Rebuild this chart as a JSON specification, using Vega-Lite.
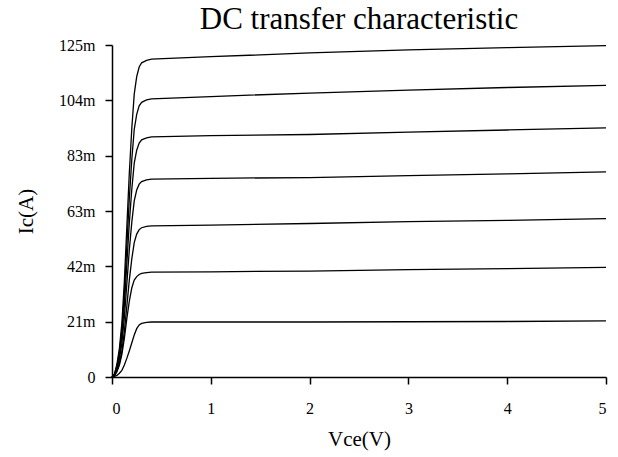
{
  "$schema": "https://vega.github.io/schema/vega-lite/v6.json",
  "autosize": "none",
  "width": 494,
  "height": 332,
  "padding": {"left": 112, "top": 45, "right": 12, "bottom": 80},
  "background": "white",
  "title": {"text": "DC transfer characteristic", "font": "Liberation Serif", "fontSize": 31, "fontWeight": "normal", "color": "black", "anchor": "middle", "offset": 1},
  "data": {"values": [
    {"v": 0, "c1": 0, "c2": 0, "c3": 0, "c4": 0, "c5": 0, "c6": 0, "c7": 0},
    {"v": 0.025, "c1": 0.2, "c2": 0.5, "c3": 0.6, "c4": 0.7, "c5": 0.9, "c6": 1.0, "c7": 1.2},
    {"v": 0.05, "c1": 0.6, "c2": 2.0, "c3": 2.3, "c4": 3.0, "c5": 3.6, "c6": 4.2, "c7": 4.8},
    {"v": 0.075, "c1": 1.4, "c2": 4.5, "c3": 5.1, "c4": 6.7, "c5": 8.1, "c6": 9.4, "c7": 10.8},
    {"v": 0.1, "c1": 2.5, "c2": 8.5, "c3": 9.7, "c4": 12.7, "c5": 15.4, "c6": 17.8, "c7": 20.3},
    {"v": 0.125, "c1": 4.5, "c2": 14.5, "c3": 17.1, "c4": 22.4, "c5": 27.1, "c6": 31.4, "c7": 35.9},
    {"v": 0.15, "c1": 7.0, "c2": 22.0, "c3": 26.7, "c4": 35.0, "c5": 42.5, "c6": 49.2, "c7": 56.3},
    {"v": 0.175, "c1": 9.8, "c2": 28.5, "c3": 36.4, "c4": 47.7, "c5": 57.9, "c6": 67.0, "c7": 76.6},
    {"v": 0.2, "c1": 12.8, "c2": 33.5, "c3": 44.4, "c4": 58.1, "c5": 70.5, "c6": 81.7, "c7": 93.4},
    {"v": 0.225, "c1": 15.8, "c2": 36.5, "c3": 50.6, "c4": 66.3, "c5": 80.5, "c6": 93.2, "c7": 106.5},
    {"v": 0.25, "c1": 18.2, "c2": 37.8, "c3": 53.8, "c4": 70.4, "c5": 85.4, "c6": 98.9, "c7": 113.1},
    {"v": 0.275, "c1": 19.6, "c2": 38.6, "c3": 55.5, "c4": 72.6, "c5": 88.1, "c6": 102.1, "c7": 116.7},
    {"v": 0.3, "c1": 20.2, "c2": 39.0, "c3": 56.2, "c4": 73.6, "c5": 89.3, "c6": 103.4, "c7": 118.3},
    {"v": 0.35, "c1": 20.6, "c2": 39.3, "c3": 56.7, "c4": 74.2, "c5": 90.0, "c6": 104.3, "c7": 119.2},
    {"v": 0.4, "c1": 20.7, "c2": 39.5, "c3": 56.9, "c4": 74.5, "c5": 90.4, "c6": 104.7, "c7": 119.7},
    {"v": 1, "c1": 20.7, "c2": 39.6, "c3": 57.2, "c4": 74.8, "c5": 90.9, "c6": 105.6, "c7": 120.6},
    {"v": 2, "c1": 20.7, "c2": 39.9, "c3": 57.8, "c4": 75.1, "c5": 91.3, "c6": 106.9, "c7": 122.0},
    {"v": 3, "c1": 20.8, "c2": 40.4, "c3": 58.5, "c4": 75.8, "c5": 92.2, "c6": 108.0, "c7": 123.2},
    {"v": 4, "c1": 20.9, "c2": 40.8, "c3": 59.0, "c4": 76.5, "c5": 93.0, "c6": 109.0, "c7": 124.0},
    {"v": 5, "c1": 21.1, "c2": 41.3, "c3": 59.6, "c4": 77.2, "c5": 93.8, "c6": 109.8, "c7": 124.8}
  ]},
  "transform": [{"fold": ["c1", "c2", "c3", "c4", "c5", "c6", "c7"], "as": ["curve", "ic"]}],
  "mark": {"type": "line", "color": "black", "strokeWidth": 1.3},
  "encoding": {
    "x": {"field": "v", "type": "quantitative", "title": "Vce(V)",
      "scale": {"domain": [0, 5], "nice": false},
      "axis": {"values": [0, 1, 2, 3, 4, 5], "labelPadding": 16, "titlePadding": 12}},
    "y": {"field": "ic", "type": "quantitative", "title": "Ic(A)",
      "scale": {"domain": [0, 125], "nice": false},
      "axis": {"values": [0, 20.8333, 41.6667, 62.5, 83.3333, 104.1667, 125],
        "labelExpr": "datum.value == 0 ? '0' : round(datum.value) + 'm'",
        "labelPadding": 10, "titlePadding": 22}},
    "detail": {"field": "curve"}
  },
  "config": {
    "view": {"stroke": null},
    "axis": {"grid": false, "domainColor": "black", "domainWidth": 1.5, "tickColor": "black", "tickWidth": 1.5, "tickSize": 7,
      "labelColor": "black", "labelFont": "Liberation Serif", "labelFontSize": 16,
      "titleColor": "black", "titleFont": "Liberation Serif", "titleFontSize": 21, "titleFontWeight": "normal"}
  }
}
